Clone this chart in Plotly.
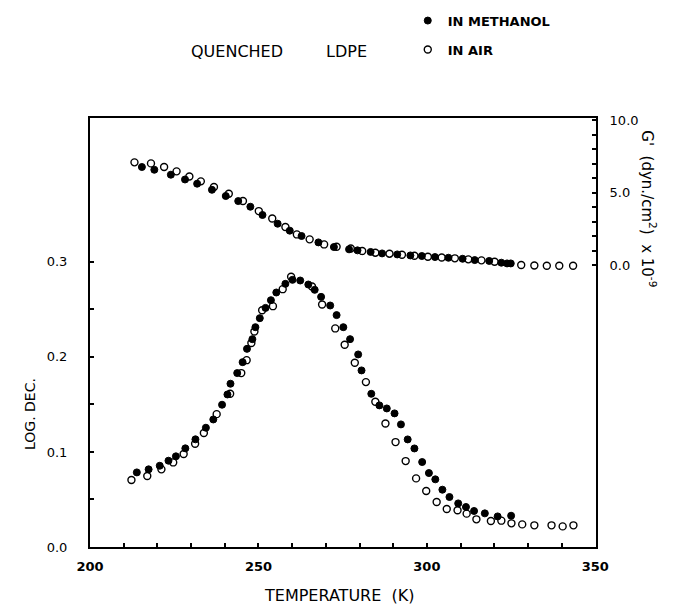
import plotly.graph_objects as go

# ---- data ----
# Log. decrement, in methanol (filled)
T_ld_methanol = [213.9, 217.4, 220.7, 223.3, 225.5, 228.3, 231.3, 234.4, 236.6, 239.2, 240.8, 241.7,
                 243.7, 245.3, 246.6, 248.2, 249.1, 250.4, 252.1, 253.7, 255.3, 258.0, 260.1, 262.4,
                 264.8, 266.7, 268.6, 271.3, 273.2, 275.2, 277.2, 279.6, 280.6, 283.5, 285.9, 288.1,
                 290.4, 292.3, 294.3, 296.3, 298.6, 300.6, 302.5, 304.6, 306.7, 309.3, 311.6, 314.0,
                 317.2, 321.0, 325.0]
ld_methanol = [0.0785, 0.0817, 0.0855, 0.0908, 0.0954, 0.1038, 0.1133, 0.1255, 0.1342, 0.1497, 0.1605, 0.1718,
               0.1830, 0.1945, 0.2085, 0.2187, 0.2313, 0.2408, 0.2516, 0.2597, 0.2678, 0.2769, 0.2811, 0.2804,
               0.2762, 0.2706, 0.2632, 0.2541, 0.2440, 0.2313, 0.2187, 0.2026, 0.1858, 0.1612, 0.1490, 0.1458,
               0.1406, 0.1290, 0.1132, 0.1037, 0.0894, 0.0778, 0.0712, 0.0603, 0.0526, 0.0459, 0.0421, 0.0379,
               0.0354, 0.0322, 0.0329]

# Log. decrement, in air (open)
T_ld_air = [212.3, 217.0, 221.2, 224.7, 227.8, 231.2, 233.8, 237.6, 241.6, 244.9, 246.5, 247.9, 248.8,
            251.1, 254.3, 257.2, 259.7, 265.9, 268.9, 272.8, 275.6, 278.6, 281.9, 284.7, 287.7, 290.7,
            293.7, 296.8, 299.8, 302.9, 305.9, 309.1, 311.8, 314.7, 319.0, 322.1, 325.1, 328.3, 331.9,
            337.0, 340.3, 343.5]
ld_air = [0.0705, 0.0747, 0.0817, 0.0890, 0.0978, 0.1087, 0.1199, 0.1398, 0.1612, 0.1830, 0.1966, 0.2146, 0.2268,
          0.2491, 0.2534, 0.2713, 0.2843, 0.2741, 0.2552, 0.2300, 0.2128, 0.1938, 0.1735, 0.1528, 0.1300, 0.1104,
          0.0904, 0.0722, 0.0589, 0.0473, 0.0400, 0.0386, 0.0351, 0.0291, 0.0273, 0.0277, 0.0249, 0.0238, 0.0228,
          0.0228, 0.0217, 0.0228]

# Storage modulus G' (x10^-9 dyn/cm^2), in methanol (filled)
T_g_methanol = [215.4, 219.1, 224.0, 228.2, 231.8, 236.2, 240.3, 244.0, 247.6, 251.2, 255.7, 259.3, 262.8,
                267.8, 272.4, 276.9, 279.4, 283.3, 286.7, 291.2, 295.1, 298.5, 302.4, 306.4, 310.6, 314.2,
                318.5, 322.1, 323.8, 324.9]
g_methanol = [6.76, 6.57, 6.23, 5.90, 5.61, 5.19, 4.76, 4.41, 4.02, 3.45, 2.85, 2.37, 2.00,
              1.56, 1.24, 1.08, 1.01, 0.90, 0.80, 0.73, 0.66, 0.62, 0.55, 0.50, 0.43, 0.34,
              0.28, 0.16, 0.11, 0.11]

# Storage modulus G', in air (open)
T_g_air = [213.2, 218.1, 222.0, 225.7, 229.5, 232.9, 236.8, 241.2, 245.4, 250.1, 254.1, 258.0, 261.4,
           265.2, 269.5, 273.2, 277.4, 280.8, 284.7, 288.9, 292.6, 296.3, 300.3, 304.4, 308.3, 312.3,
           316.2, 320.1, 328.0, 331.9, 335.6, 339.3, 343.4]
g_air = [7.08, 7.01, 6.76, 6.46, 6.11, 5.77, 5.38, 4.92, 4.41, 3.72, 3.21, 2.62, 2.11,
         1.77, 1.42, 1.26, 1.14, 0.97, 0.85, 0.78, 0.71, 0.64, 0.57, 0.52, 0.46, 0.39,
         0.32, 0.23, 0.0, -0.03, -0.05, -0.05, -0.05]

# tick labels
x_tickvals = [200, 210, 220, 230, 240, 250, 260, 270, 280, 290, 300, 310, 320, 330, 340, 350]
x_ticktext = ["200", "", "", "", "", "250", "", "", "", "", "300", "", "", "", "", "350"]
y_tickvals = [0.0, 0.05, 0.1, 0.15, 0.2, 0.25, 0.3]
y_ticktext = ["0.0", "", "0.1", "", "0.2", "", "0.3"]
y2_tickvals = [0, 1, 2, 3, 4, 5, 6, 7, 8, 9, 10]
y2_ticktext = ["0.0", "", "", "", "", "5.0", "", "", "", "", "10.0"]

FONT = "DejaVu Sans"
MS = 7

filled = dict(symbol="circle", size=MS, color="black", line=dict(color="black", width=1))
opened = dict(symbol="circle", size=MS, color="white", line=dict(color="black", width=1.4))

fig = go.Figure()
fig.add_trace(go.Scatter(x=T_ld_air, y=ld_air, mode="markers", marker=opened,
                         name="IN AIR", legendgroup="b", legendrank=2))
fig.add_trace(go.Scatter(x=T_ld_methanol, y=ld_methanol, mode="markers", marker=filled,
                         name="IN METHANOL", legendgroup="a", legendrank=1))
fig.add_trace(go.Scatter(x=T_g_air, y=g_air, mode="markers", marker=opened, yaxis="y2",
                         name="IN AIR", legendgroup="b", showlegend=False))
fig.add_trace(go.Scatter(x=T_g_methanol, y=g_methanol, mode="markers", marker=filled, yaxis="y2",
                         name="IN METHANOL", legendgroup="a", showlegend=False))

ytickfont = dict(family=FONT, size=13, color="black")
xtickfont = dict(family=FONT, size=13, color="black", weight="bold")

def note(text, x, y, size, angle=0, weight="normal"):
    return dict(text=text, x=x, y=y, xref="paper", yref="paper", showarrow=False,
                xanchor="center", yanchor="middle", textangle=angle,
                font=dict(family=FONT, size=size, color="black", weight=weight))

fig.update_layout(
    width=673, height=605,
    margin=dict(l=82, r=85, t=110, b=66, autoexpand=False),
    paper_bgcolor="white", plot_bgcolor="white",
    font=dict(family=FONT, color="black"),
    xaxis=dict(range=[200, 350.2], tickmode="array", tickvals=x_tickvals, ticktext=x_ticktext,
               ticks="inside", ticklen=4, tickwidth=1.5, tickcolor="black",
               showline=True, linewidth=2, linecolor="black", mirror=True,
               showgrid=False, zeroline=False, tickfont=xtickfont, ticklabelstandoff=6),
    yaxis=dict(range=[0.0, 0.4514], tickmode="array", tickvals=y_tickvals, ticktext=y_ticktext,
               ticks="inside", ticklen=4, tickwidth=1.5, tickcolor="black",
               showline=True, linewidth=2, linecolor="black", mirror=False,
               showgrid=False, zeroline=False, tickfont=ytickfont, ticklabelstandoff=18),
    yaxis2=dict(range=[-19.45, 10.14], overlaying="y", side="right", tickmode="array",
                tickvals=y2_tickvals, ticktext=y2_ticktext,
                ticks="inside", ticklen=4, tickwidth=1.5, tickcolor="black",
                showline=True, linewidth=2, linecolor="black",
                showgrid=False, zeroline=False, tickfont=ytickfont, ticklabelstandoff=9),
    showlegend=True,
    legend=dict(x=0.628, y=1.262, xanchor="left", yanchor="top", tracegroupgap=9,
                font=dict(family=FONT, size=13, color="black", weight="bold"),
                bgcolor="rgba(0,0,0,0)", itemwidth=30),
    annotations=[
        note("QUENCHED", 0.2905, 1.154, 16),
        note("LDPE", 0.506, 1.154, 16),
        note("TEMPERATURE  (K)", 0.492, -0.112, 16),
        note("LOG. DEC.", -0.1186, 0.31, 14, angle=-90),
        note("G'  (dyn./cm<sup>2</sup>)  x 10<sup>-9</sup>", 1.104, 0.788, 15, angle=90),
    ],
)

fig.write_html("out.html")
